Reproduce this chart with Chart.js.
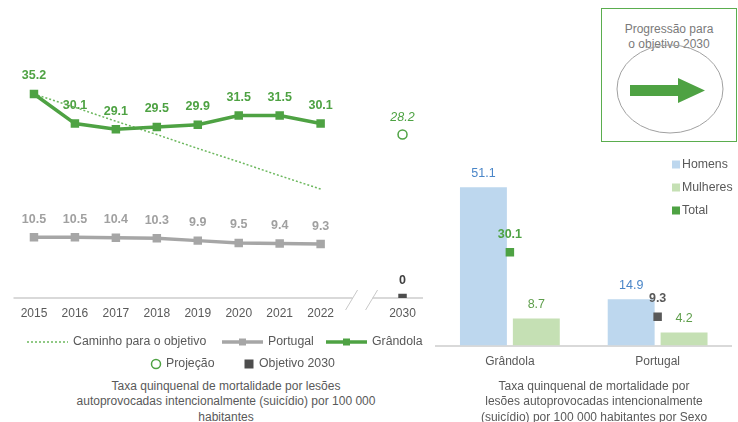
<!DOCTYPE html>
<html>
<head>
<meta charset="utf-8">
<script src="https://cdn.jsdelivr.net/npm/chart.js@4.4.0/dist/chart.umd.min.js"></script>
<style>
  html,body{margin:0;padding:0;background:#fff;}
  body{width:738px;height:422px;position:relative;overflow:hidden;font-family:"Liberation Sans",Arial,sans-serif;color:#595959;}
  #c1{position:absolute;left:0;top:0;}
  #c2{position:absolute;left:430px;top:150px;}
  .title{position:absolute;font-size:12px;line-height:15.5px;text-align:center;color:#595959;}
  #box{position:absolute;left:601px;top:8px;width:134px;height:132px;border:1.5px solid #5aad4e;}
  #boxText{position:absolute;left:0;top:13px;width:100%;text-align:center;font-size:12px;line-height:15px;color:#7a7a7a;}
  #deco{position:absolute;left:0;top:0;}
</style>
</head>
<body>
<canvas id="c1" width="440" height="375"></canvas>
<canvas id="c2" width="308" height="230"></canvas>
<div class="title" style="left:46px;top:378.5px;width:360px;">Taxa quinquenal de mortalidade por lesões<br>autoprovocadas intencionalmente (suicídio) por 100 000<br>habitantes</div>
<div class="title" style="left:464px;top:378.5px;width:260px;">Taxa quinquenal de mortalidade por<br>lesões autoprovocadas intencionalmente<br>(suicídio) por 100 000 habitantes por Sexo</div>
<div id="box"><div id="boxText">Progressão para<br>o objetivo 2030</div></div>
<svg id="deco" width="738" height="422">
  <ellipse cx="670" cy="89" rx="53" ry="44" fill="none" stroke="#a0a0a0" stroke-width="1"/>
  <polygon points="630,85 678,85 678,78 705,90.5 678,103 678,96 630,96" fill="#4ea243"/>
</svg>
<script>
// ---------- Data: left chart ----------
const years = ['2015','2016','2017','2018','2019','2020','2021','2022','','2030'];
const grandola = [35.2, 30.1, 29.1, 29.5, 29.9, 31.5, 31.5, 30.1, null, null];
const portugal = [10.5, 10.5, 10.4, 10.3, 9.9, 9.5, 9.4, 9.3, null, null];
const caminho  = [35.2, 32.9, 30.5, 28.2, 25.8, 23.5, 21.1, 18.8, null, null];
const projecao = [null, null, null, null, null, null, null, null, null, 28.2];
const objetivo = [null, null, null, null, null, null, null, null, null, 0];

// ---------- Data: right chart ----------
const places = ['Grândola', 'Portugal'];
const homens = [51.1, 14.9];
const mulheres = [8.7, 4.2];
const total = [30.1, 9.3];

const GREEN = '#4ea243';
const GREY = '#a6a6a6';
const DARK = '#4d4d4d';
const TXT = '#595959';
const FONT = '"Liberation Sans", Arial, sans-serif';

function fmt(v){ return v === 0 ? '0' : v.toFixed(1); }

const valueLabels = {
  id: 'valueLabels',
  afterDatasetsDraw(chart){
    const ctx = chart.ctx;
    chart.data.datasets.forEach((ds, i) => {
      const o = ds.valueLabel;
      if (!o) return;
      const meta = chart.getDatasetMeta(i);
      meta.data.forEach((el, j) => {
        const v = ds.data[j];
        if (v === null || v === undefined) return;
        ctx.save();
        ctx.font = o.font;
        ctx.fillStyle = Array.isArray(o.color) ? o.color[j] : o.color;
        ctx.textAlign = 'center';
        ctx.textBaseline = 'middle';
        ctx.fillText(fmt(v), el.x, el.y - o.offset);
        ctx.restore();
      });
    });
  }
};

// axis line with a break between 2022 and 2030
const brokenAxis = {
  id: 'brokenAxis',
  beforeDatasetsDraw(chart){
    const ctx = chart.ctx, x = chart.scales.x, a = chart.chartArea;
    const xb = x.getPixelForValue(8);
    const y = a.bottom;
    ctx.save();
    ctx.strokeStyle = '#d9d9d9';
    ctx.lineWidth = 2;
    ctx.beginPath();
    ctx.moveTo(a.left, y); ctx.lineTo(xb - 9, y);
    ctx.moveTo(xb + 11, y); ctx.lineTo(a.right, y);
    ctx.stroke();
    ctx.lineWidth = 1;
    ctx.strokeStyle = '#c8c8c8';
    ctx.beginPath();
    [xb - 10, xb + 10].forEach(c => { ctx.moveTo(c - 6, y + 12); ctx.lineTo(c + 6, y - 8); });
    ctx.stroke();
    ctx.restore();
  }
};

function drawMarker(ctx, style, x, y, r, fill, stroke, bw){
  ctx.save();
  ctx.fillStyle = fill; ctx.strokeStyle = stroke; ctx.lineWidth = bw;
  ctx.beginPath();
  if (style === 'circle') { ctx.arc(x, y, r, 0, Math.PI * 2); ctx.fill(); ctx.stroke(); }
  else { ctx.rect(x - r, y - r, 2 * r, 2 * r); ctx.fill(); }
  ctx.restore();
}

// custom legend for left chart (layout only, styles come from datasets)
const legendLayout = [
  {ds: 0, x: 27, y: 342}, {ds: 1, x: 222, y: 342}, {ds: 2, x: 326, y: 342},
  {ds: 3, x: 152, y: 364}, {ds: 4, x: 245, y: 364}
];
const leftLegend = {
  id: 'leftLegend',
  afterDraw(chart){
    const ctx = chart.ctx;
    legendLayout.forEach(item => {
      const ds = chart.data.datasets[item.ds];
      let tx;
      ctx.save();
      if (ds.showLine !== false) {
        ctx.strokeStyle = ds.borderColor;
        ctx.lineWidth = ds.borderWidth;
        ctx.setLineDash(ds.borderDash || []);
        ctx.beginPath(); ctx.moveTo(item.x, item.y); ctx.lineTo(item.x + 41, item.y); ctx.stroke();
        ctx.setLineDash([]);
        if (ds.pointRadius > 0) drawMarker(ctx, 'rect', item.x + 20.5, item.y, 3.5, ds.pointBackgroundColor, ds.pointBackgroundColor, 0);
        tx = item.x + 46;
      } else {
        if (ds.pointStyle === 'circle') drawMarker(ctx, 'circle', item.x + 4, item.y, 4.5, '#fff', ds.pointBorderColor, 1.5);
        else drawMarker(ctx, 'rect', item.x + 4, item.y, 4.5, ds.pointBackgroundColor, ds.pointBackgroundColor, 0);
        tx = item.x + 14;
      }
      ctx.fillStyle = TXT;
      ctx.font = '12.3px ' + FONT;
      ctx.textAlign = 'left'; ctx.textBaseline = 'middle';
      ctx.fillText(ds.label, tx, item.y);
      ctx.restore();
    });
  }
};

new Chart(document.getElementById('c1'), {
  type: 'line',
  data: {
    labels: years,
    datasets: [
      {label: 'Caminho para o objetivo', data: caminho, borderColor: '#6cb85e', borderWidth: 1.5, borderDash: [2, 2],
       pointRadius: 0, fill: false, order: 3},
      {label: 'Portugal', data: portugal, borderColor: GREY, borderWidth: 3.5, pointStyle: 'rect', pointRadius: 6,
       pointBackgroundColor: GREY, pointBorderWidth: 0, order: 2,
       valueLabel: {font: 'bold 12.5px ' + FONT, color: '#a0a0a0', offset: 18}},
      {label: 'Grândola', data: grandola, borderColor: GREEN, borderWidth: 3.5, pointStyle: 'rect', pointRadius: 6,
       pointBackgroundColor: GREEN, pointBorderWidth: 0, order: 1,
       valueLabel: {font: 'bold 12.5px ' + FONT, color: GREEN, offset: 18}},
      {label: 'Projeção', data: projecao, showLine: false, pointStyle: 'circle', pointRadius: 4.5,
       pointBackgroundColor: '#ffffff', pointBorderColor: GREEN, pointBorderWidth: 1.5, order: 0,
       valueLabel: {font: 'italic 12.5px ' + FONT, color: GREEN, offset: 17}},
      {label: 'Objetivo 2030', data: objetivo, showLine: false, pointStyle: 'rect', pointRadius: 6,
       pointBackgroundColor: DARK, pointBorderWidth: 0, order: 0,
       valueLabel: {font: 'bold 12.5px ' + FONT, color: '#404040', offset: 17}}
    ]
  },
  options: {
    responsive: false, animation: false, spanGaps: false,
    layout: {padding: {left: 13.5, right: 17, top: 37.2, bottom: 47}},
    plugins: {legend: {display: false}, tooltip: {enabled: false}},
    scales: {
      x: {offset: true, grid: {display: false, drawTicks: false}, border: {display: false},
          ticks: {color: TXT, font: {size: 12, family: FONT}, padding: 8.5, maxRotation: 0, autoSkip: false},
          afterFit: s => { s.height = 30; }},
      y: {display: false, min: 0, max: 45}
    }
  },
  plugins: [brokenAxis, valueLabels, leftLegend]
});

// right chart legend
const rightLegend = {
  id: 'rightLegend',
  afterDraw(chart){
    const ctx = chart.ctx;
    const x0 = 672 - 430, ys = [164.5 - 150, 187.5 - 150, 210.5 - 150];
    chart.data.datasets.forEach((ds, i) => {
      ctx.save();
      const c = ds.type === 'line' ? ds.legendColor : ds.backgroundColor;
      ctx.fillStyle = c;
      ctx.fillRect(x0, ys[i] - 4, 8, 8);
      ctx.fillStyle = TXT;
      ctx.font = '12.3px ' + FONT;
      ctx.textAlign = 'left'; ctx.textBaseline = 'middle';
      ctx.fillText(ds.label, x0 + 10, ys[i]);
      ctx.restore();
    });
  }
};

new Chart(document.getElementById('c2'), {
  type: 'bar',
  data: {
    labels: places,
    datasets: [
      {label: 'Homens', data: homens, backgroundColor: '#bdd7ee', barPercentage: 0.887, categoryPercentage: 0.716, order: 2,
       valueLabel: {font: '12.5px ' + FONT, color: '#4a86c8', offset: 14}},
      {label: 'Mulheres', data: mulheres, backgroundColor: '#c5e0b4', barPercentage: 0.887, categoryPercentage: 0.716, order: 2,
       valueLabel: {font: '12.5px ' + FONT, color: '#5e9e4b', offset: 14}},
      {label: 'Total', type: 'line', data: total, showLine: false, pointStyle: 'rect', pointRadius: 6, order: 0,
       pointBackgroundColor: [GREEN, '#595959'], pointBorderWidth: 0, legendColor: GREEN,
       valueLabel: {font: 'bold 12.5px ' + FONT, color: [GREEN, '#595959'], offset: 18}}
    ]
  },
  options: {
    responsive: false, animation: false,
    layout: {padding: {left: 5, right: 6.5, top: 9.7, bottom: 9.5}},
    plugins: {legend: {display: false}, tooltip: {enabled: false}},
    scales: {
      x: {grid: {display: false, drawTicks: false}, border: {display: true, color: '#d9d9d9', width: 2},
          ticks: {color: TXT, font: {size: 12, family: FONT}, padding: 9},
          afterFit: s => { s.height = 25; }},
      y: {display: false, min: 0, max: 60}
    }
  },
  plugins: [valueLabels, rightLegend]
});
</script>
</body>
</html>
